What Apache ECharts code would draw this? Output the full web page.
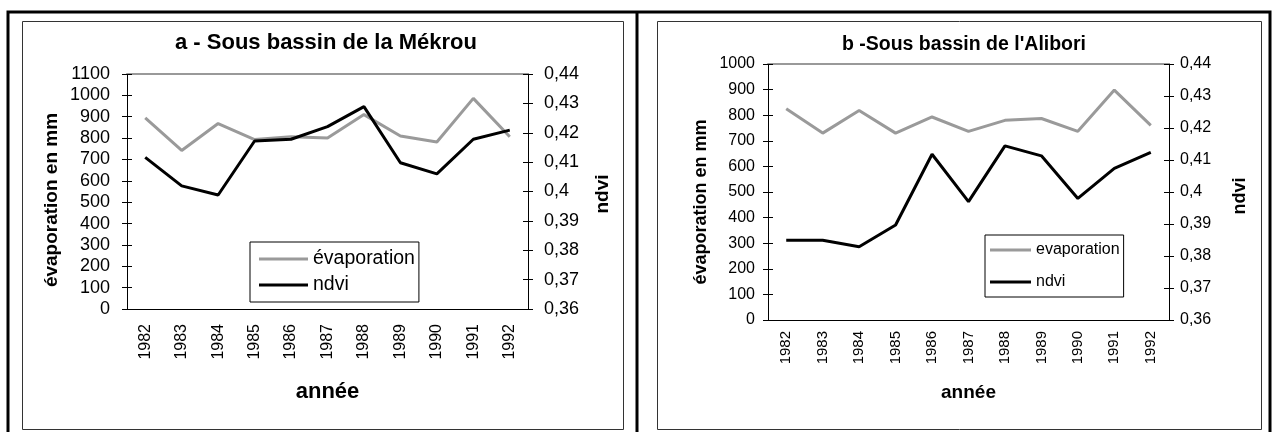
<!DOCTYPE html>
<html><head><meta charset="utf-8">
<script src="https://cdn.jsdelivr.net/npm/echarts@6/dist/echarts.min.js"></script>
<style>html,body{margin:0;padding:0;background:#fff}#c{width:1277px;height:432px}</style>
</head><body><div id="c"></div>
<script>
// ---- data ----
const years = ['1982','1983','1984','1985','1986','1987','1988','1989','1990','1991','1992'];
const evapA = [895, 742, 868, 793, 806, 800, 910, 810, 782, 986, 806];
const ndviA = [0.4116, 0.4019, 0.3988, 0.4172, 0.4178, 0.4221, 0.4289, 0.4098, 0.4060, 0.4178, 0.4209];
const evapB = [825, 730, 818, 730, 793, 737, 780, 787, 737, 898, 760];
const ndviB = [0.3849, 0.3849, 0.3829, 0.3897, 0.4118, 0.3970, 0.4144, 0.4113, 0.3980, 0.4074, 0.4124];
const titleA = 'a - Sous bassin de la Mékrou';
const titleB = "b -Sous bassin de l'Alibori";
const evapNameA = 'évaporation';
const evapNameB = 'evaporation';
const ndviName = 'ndvi';
const yNameLeft = 'évaporation en mm';
const xName = 'année';
const evapMaxA = 1100, evapMaxB = 1000, evapStep = 100;
const ndviMin = 0.36, ndviMax = 0.44, ndviStep = 0.01;

const FONT = '"Liberation Sans", Arial, sans-serif';
const fmtNdvi = v => String(+(+v).toFixed(2)).replace('.', ',');
const fmtEvap = v => String(Math.round(v));

const panels = [
  { grid:{left:127, top:74, width:401, height:235}, evap:evapA, ndvi:ndviA, evapMax:evapMaxA, evapName:evapNameA,
    tick:18, xTick:16, xMargin:15, yMarginL:17, yMarginR:16, yNameSize:19,
    yNameL:{x:52, y:200}, yNameR:{x:603, y:194},
    xNameSize:22, xNameGap:72,
    legend:{left:250, top:242, itemWidth:49, itemGap:6, padding:[7,4,7,9], fontSize:19.5} },
  { grid:{left:768, top:64, width:401, height:256}, evap:evapB, ndvi:ndviB, evapMax:evapMaxB, evapName:evapNameB,
    tick:16, xTick:15, xMargin:11, yMarginL:13, yMarginR:11, yNameSize:18,
    yNameL:{x:701, y:202}, yNameR:{x:1240, y:196},
    xNameSize:19, xNameGap:63,
    legend:{left:985, top:235, itemWidth:41, itemGap:16, padding:[7,4,7,5], fontSize:16} }
];

const grid = [], xAxis = [], yAxis = [], series = [], legend = [], nameTexts = [];
panels.forEach((p, g) => {
  grid.push(Object.assign({containLabel:false}, p.grid));
  const xb = xAxis.length, yb = yAxis.length;
  xAxis.push({gridIndex:g, type:'category', data:years, position:'bottom', boundaryGap:true,
    axisLine:{lineStyle:{color:'#000', width:1}}, axisTick:{length:5, lineStyle:{color:'#000'}},
    axisLabel:{rotate:90, margin:p.xMargin, fontSize:p.xTick, color:'#000', fontFamily:FONT, interval:0},
    name:xName, nameLocation:'middle', nameGap:p.xNameGap,
    nameTextStyle:{fontWeight:'bold', fontSize:p.xNameSize, color:'#000', fontFamily:FONT}});
  xAxis.push({gridIndex:g, type:'category', data:years, position:'bottom', boundaryGap:true,
    axisLine:{show:false}, axisTick:{inside:true, length:5, lineStyle:{color:'#000'}}, axisLabel:{show:false}});
  xAxis.push({gridIndex:g, type:'category', data:years, position:'top', boundaryGap:true,
    axisLine:{lineStyle:{color:'#999', width:2}}, axisTick:{show:false}, axisLabel:{show:false}});
  yAxis.push({gridIndex:g, type:'value', position:'left', min:0, max:p.evapMax, interval:evapStep,
    axisLine:{show:true, lineStyle:{color:'#000'}}, axisTick:{show:true, length:5, lineStyle:{color:'#000'}},
    splitLine:{show:false}, axisLabel:{fontSize:p.tick, color:'#000', margin:p.yMarginL, fontFamily:FONT, formatter:fmtEvap}});
  yAxis.push({gridIndex:g, type:'value', position:'right', min:ndviMin, max:ndviMax, interval:ndviStep,
    axisLine:{show:true, lineStyle:{color:'#000'}}, axisTick:{show:true, length:5, lineStyle:{color:'#000'}},
    splitLine:{show:false}, axisLabel:{fontSize:p.tick, color:'#000', margin:p.yMarginR, fontFamily:FONT, formatter:fmtNdvi}});
  yAxis.push({gridIndex:g, type:'value', position:'left', min:0, max:p.evapMax, interval:evapStep,
    axisLine:{show:false}, axisTick:{show:true, inside:true, length:5, lineStyle:{color:'#000'}},
    splitLine:{show:false}, axisLabel:{show:false}});
  yAxis.push({gridIndex:g, type:'value', position:'right', min:ndviMin, max:ndviMax, interval:ndviStep,
    axisLine:{show:false}, axisTick:{show:true, inside:true, length:5, lineStyle:{color:'#000'}},
    splitLine:{show:false}, axisLabel:{show:false}});
  series.push({type:'line', name:p.evapName, xAxisIndex:xb, yAxisIndex:yb, data:p.evap, symbol:'none',
    lineStyle:{color:'#9a9a9a', width:3}, itemStyle:{color:'#9a9a9a'}, z:2});
  series.push({type:'line', name:ndviName, xAxisIndex:xb, yAxisIndex:yb+1, data:p.ndvi, symbol:'none',
    lineStyle:{color:'#000', width:3}, itemStyle:{color:'#000'}, z:3});
  const L = p.legend;
  legend.push({left:L.left, top:L.top, orient:'vertical', data:[p.evapName, ndviName], icon:'rect',
    itemWidth:L.itemWidth, itemHeight:3, itemGap:L.itemGap, padding:L.padding, selectedMode:false,
    borderColor:'#000', borderWidth:1, backgroundColor:'#fff',
    textStyle:{fontSize:L.fontSize, color:'#000', fontFamily:FONT}});
  nameTexts.push({type:'text', x:p.yNameL.x, y:p.yNameL.y, rotation:Math.PI/2,
    style:{text:yNameLeft, align:'center', verticalAlign:'middle', fontSize:p.yNameSize, fontWeight:'bold', fontFamily:FONT, fill:'#000'}});
  nameTexts.push({type:'text', x:p.yNameR.x, y:p.yNameR.y, rotation:Math.PI/2,
    style:{text:ndviName, align:'center', verticalAlign:'middle', fontSize:p.yNameSize, fontWeight:'bold', fontFamily:FONT, fill:'#000'}});
});

const graphic = [
  {type:'rect', shape:{x:8, y:12, width:1262, height:440}, style:{fill:'none', stroke:'#000', lineWidth:3}, silent:true},
  {type:'line', shape:{x1:637, y1:12, x2:637, y2:432}, style:{stroke:'#000', lineWidth:3}, silent:true},
  {type:'rect', shape:{x:22.5, y:21.5, width:601, height:408}, style:{fill:'none', stroke:'#333', lineWidth:1}, silent:true},
  {type:'rect', shape:{x:657.5, y:21.5, width:604, height:408}, style:{fill:'none', stroke:'#333', lineWidth:1}, silent:true},
  {type:'text', x:326, y:43, style:{text:titleA, align:'center', verticalAlign:'middle', fontSize:22, fontWeight:'bold', fontFamily:FONT, fill:'#000'}},
  {type:'text', x:964, y:45, style:{text:titleB, align:'center', verticalAlign:'middle', fontSize:19.5, fontWeight:'bold', fontFamily:FONT, fill:'#000'}}
].concat(nameTexts);

const chart = echarts.init(document.getElementById('c'), null, {renderer:'canvas'});
chart.setOption({animation:false, backgroundColor:'#fff', grid, xAxis, yAxis, series, legend, graphic});
</script></body></html>
